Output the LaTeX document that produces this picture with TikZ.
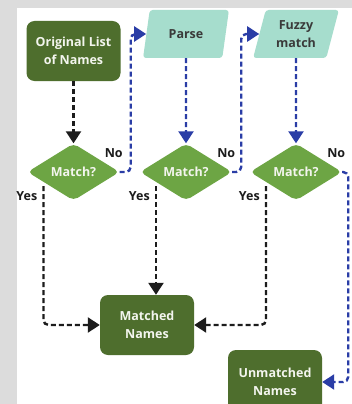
\documentclass[tikz,border=0pt]{standalone}
\usepackage{fontspec}
\setmainfont{Open Sans}
\usetikzlibrary{arrows.meta,calc,positioning,shapes.geometric}
\definecolor{NameDark}{HTML}{4E6E2D}
\definecolor{NameLeaf}{HTML}{6DA544}
\definecolor{NameMint}{HTML}{A6DDCD}
\definecolor{NameBlue}{HTML}{2A3DA6}
\definecolor{NameInk}{HTML}{1C1C1C}
\definecolor{NameStepText}{HTML}{3A3A3A}
\definecolor{NameText}{HTML}{F3F5EE}
\definecolor{NameGrey}{HTML}{DCDCDC}
\newcommand{\flowfont}{\fontsize{12.5}{17.5}\selectfont\bfseries}
\tikzset{
  name box/.style={
    fill=NameDark,
    text=NameText,
    rounded corners=8pt,
    align=center,
    minimum width=94pt,
    minimum height=60pt,
    inner sep=2pt,
    font=\flowfont
  },
  match diamond/.style={
    diamond,
    fill=NameLeaf,
    text=NameText,
    rounded corners=5pt,
    aspect=1.65,
    minimum width=92pt,
    minimum height=57pt,
    inner sep=1pt,
    font=\flowfont
  },
  name step/.style={
    trapezium,
    trapezium left angle=73,
    trapezium right angle=107,
    trapezium stretches=true,
    fill=NameMint,
    text=NameStepText,
    rounded corners=3pt,
    align=center,
    minimum width=86pt,
    minimum height=48pt,
    inner sep=1pt,
    font=\flowfont
  },
  yes flow/.style={-{Triangle[width=15pt,length=12pt]},draw=NameInk,line width=2.4pt,dash pattern=on 5pt off 3pt,rounded corners=5pt},
  no flow/.style={-{Triangle[width=15pt,length=12pt]},draw=NameBlue,line width=2.4pt,dash pattern=on 5pt off 3pt,rounded corners=5pt},
  flow label/.style={
    text=NameInk,
    inner sep=1pt,
    font=\flowfont
  }
}
\begin{document}
\begin{tikzpicture}[x=1pt,y=-1pt]
  \useasboundingbox (0,0) rectangle (352,404);
  \clip (0,0) rectangle (352,404);
  \fill[NameGrey] (0,0) rectangle (352,404);
  \fill[white] (17,8) rectangle (352,404);

  \node[name box] (original) at (73.5,51) {Original List\\of Names};
  \node[match diamond] (match1) at (73.5,172) {Match?};
  \node[name step] (parse) at (186,34) {Parse};
  \node[match diamond] (match2) at (parse |- match1) {Match?};
  \node[name step] (fuzzy) at (296,34) {Fuzzy\\match};
  \node[match diamond] (match3) at (fuzzy |- match1) {Match?};
  \node[name box] (matched) at (147,325) {Matched\\Names};
  \node[name box,minimum height=64pt] (unmatched) at (275,382) {Unmatched\\Names};

  \coordinate (yes1) at ($(match1.west)!0.35!(match1.south)+(0,4)$);
  \coordinate (yes2) at ($(match2.west)!0.35!(match2.south)+(0,4)$);
  \coordinate (yes3) at ($(match3.west)!0.35!(match3.south)+(0,4)$);

  \node[flow label] (no1) at ([xshift=-6pt,yshift=19pt]match1.east) {No};
  \node[flow label] (no2) at ([xshift=-6pt,yshift=19pt]match2.east) {No};
  \node[flow label] (no3) at ([xshift=-6pt,yshift=19pt]match3.east) {No};
  \node[flow label,left=5pt of yes1,yshift=-10pt] (yeslabel1) {Yes};
  \node[flow label,left=5pt of yes2,yshift=-10pt] (yeslabel2) {Yes};
  \node[flow label,left=5pt of yes3,yshift=-10pt] (yeslabel3) {Yes};

  \draw[yes flow] (original) -- (match1);
  \draw[no flow] (parse) -- (match2);
  \draw[no flow] (fuzzy) -- (match3);
  \draw[no flow] (match1.east) -- ++(11,0) |- (parse.west);
  \draw[no flow] (match2.east) -- ++(9,0) |- (fuzzy.west);
  \draw[no flow] (match3.east) -- ++(6,0) |- (unmatched.east);
  \draw[yes flow] (yes1) |- (matched.west);
  \draw[yes flow] (yes2) -- (yes2 |- matched.north);
  \draw[yes flow] (yes3) |- (matched.east);
\end{tikzpicture}
\end{document}
